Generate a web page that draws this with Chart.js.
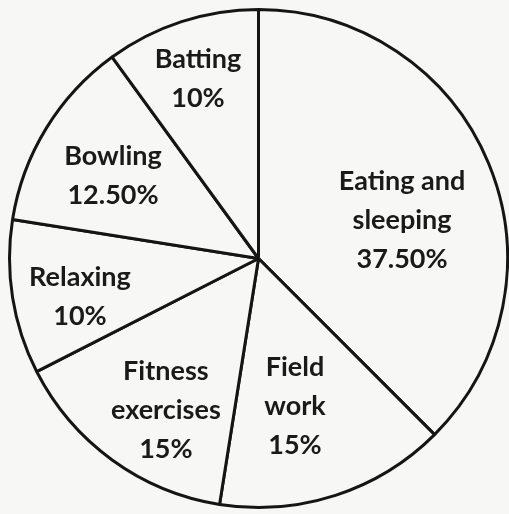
<!DOCTYPE html>
<html>
<head>
<meta charset="utf-8">
<script src="https://cdn.jsdelivr.net/npm/chart.js@4.4.1/dist/chart.umd.min.js"></script>
<style>
  html, body { margin: 0; padding: 0; background: #f7f7f5; }
  #wrap { width: 509px; height: 514px; }
</style>
</head>
<body>
<div id="wrap"><canvas id="chart" width="509" height="514"></canvas></div>
<script>
// activities, clockwise from 12 o'clock
const categories = [
  ['Eating and', 'sleeping'],
  ['Field', 'work'],
  ['Fitness', 'exercises'],
  ['Relaxing'],
  ['Bowling'],
  ['Batting'],
];
const shares = [37.5, 15, 15, 10, 12.5, 10];
const percentLabels = ['37.50%', '15%', '15%', '10%', '12.50%', '10%'];
// label placement: fraction of radius, and nudge (degrees) off the slice middle
const labelRadius = [0.598, 0.606, 0.71, 0.732, 0.674, 0.766];
const labelTurn = [7.1, 4, -4.4, -2.6, -1.6, -0.5];

const sliceLabels = {
  id: 'sliceLabels',
  afterDatasetsDraw(chart) {
    const ctx = chart.ctx;
    const arcs = chart.getDatasetMeta(0).data;
    ctx.save();
    ctx.font = 'bold 27px Lato';
    ctx.fillStyle = '#1a1a1a';
    ctx.textAlign = 'center';
    ctx.textBaseline = 'alphabetic';
    arcs.forEach((arc, i) => {
      const p = arc.getProps(['x', 'y', 'startAngle', 'endAngle', 'outerRadius'], true);
      const mid = (p.startAngle + p.endAngle) / 2 + labelTurn[i] * Math.PI / 180;
      const r = p.outerRadius * labelRadius[i];
      const cx = p.x + Math.cos(mid) * r;
      const cy = p.y + Math.sin(mid) * r;
      const lines = categories[i].concat([percentLabels[i]]);
      const lh = 39;
      lines.forEach((t, k) => {
        ctx.fillText(t, cx, cy + (k - (lines.length - 1) / 2) * lh + 10);
      });
    });
    ctx.restore();
  }
};

new Chart(document.getElementById('chart'), {
  type: 'pie',
  data: {
    labels: categories.map(c => c.join(' ')),
    datasets: [{
      data: shares,
      backgroundColor: '#f7f7f5',
      borderColor: '#151515',
      borderWidth: 3,
    }],
  },
  options: {
    responsive: false,
    animation: false,
    layout: { padding: { left: 8, right: 0, top: 8, bottom: 5 } },
    plugins: {
      legend: { display: false },
      tooltip: { enabled: false },
    },
  },
  plugins: [sliceLabels],
});
</script>
</body>
</html>
